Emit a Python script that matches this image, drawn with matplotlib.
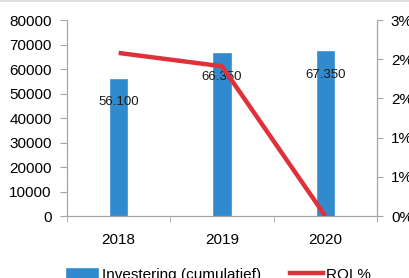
import matplotlib
matplotlib.use("Agg")
import matplotlib.pyplot as plt
from matplotlib.lines import Line2D
from matplotlib.ticker import FuncFormatter

plt.rcParams["font.family"] = ["Liberation Sans", "DejaVu Sans"]

years = ["2018", "2019", "2020"]
investering = [56100, 66350, 67350]
bar_labels = ["56.100", "66.350", "67.350"]
roi = [0.0208, 0.0191, 0.0]

bar_color = "#3189CE"
line_color = "#E0313A"
axis_color = "#A6A6A6"

fig = plt.figure(figsize=(4.09, 2.78), dpi=100)
ax = fig.add_axes([0.1638, 0.223, 0.758, 0.705])
x = list(range(len(years)))

bars = ax.bar(x, investering, width=0.165, color=bar_color, edgecolor="#4A9BD8",
              linewidth=0.6, label="Investering (cumulatief)", zorder=2)
for xi, val, lab in zip(x, investering, bar_labels):
    ax.annotate(lab, (xi, val), xytext=(0, -17), textcoords="offset points",
                ha="center", va="center", fontsize=9.5, color="#1a1a1a", zorder=4)

ax.set_xlim(-0.5, 2.5)
ax.set_ylim(0, 80000)
ax.set_yticks(range(0, 80001, 10000))
ax.set_xticks(x)
ax.set_xticklabels(years)
ax.set_xticks([-0.5, 0.5, 1.5, 2.5], minor=True)
ax.tick_params(axis="x", which="major", length=0, pad=12, labelsize=11)
ax.tick_params(axis="x", which="minor", length=4, color=axis_color)
ax.tick_params(axis="y", length=5, color=axis_color, labelsize=11, pad=6)

ax2 = ax.twinx()
ax2.plot(x, roi, color=line_color, linewidth=3.2, solid_capstyle="butt",
         label="ROI %", zorder=3)
ax2.set_ylim(0, 0.025)
ax2.set_yticks([0, 0.005, 0.01, 0.015, 0.02, 0.025])
ax2.yaxis.set_major_formatter(FuncFormatter(lambda v, p: "%d%%" % int(v * 100 + 0.5)))
ax2.tick_params(axis="y", length=4, color=axis_color, labelsize=11, pad=6)

for a in (ax, ax2):
    a.spines["top"].set_visible(False)
    for s in ("left", "right", "bottom"):
        a.spines[s].set_color(axis_color)
        a.spines[s].set_linewidth(0.9)
ax.spines["right"].set_visible(False)
ax2.spines["left"].set_visible(False)
ax2.spines["bottom"].set_visible(False)

handles = [bars, Line2D([0], [0], color=line_color, linewidth=3.2)]
fig.legend(handles, ["Investering (cumulatief)", "ROI %"], loc="center",
           bbox_to_anchor=(0.535, 0.012), ncol=2, frameon=False, fontsize=11,
           handlelength=2.1, columnspacing=1.9, handletextpad=0.25)

fig.add_artist(Line2D([0, 1], [0.998, 0.998], color="#D9D9D9", linewidth=1.2,
                      transform=fig.transFigure))

fig.savefig("out.png", dpi=100)
